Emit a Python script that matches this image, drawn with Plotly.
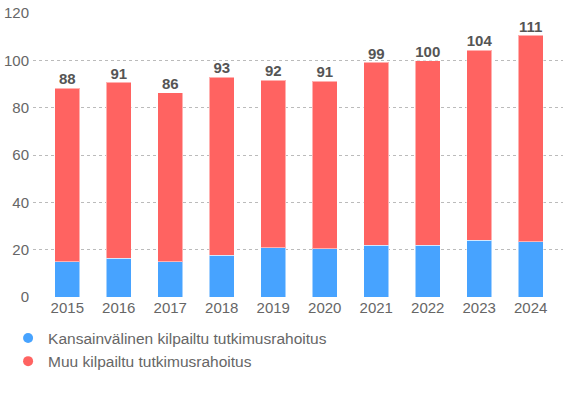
import plotly.graph_objects as go

years = ["2015", "2016", "2017", "2018", "2019", "2020", "2021", "2022", "2023", "2024"]
intl = [15.0, 16.4, 15.0, 17.6, 20.9, 20.3, 21.8, 21.8, 24.0, 23.4]
other = [73.3, 74.3, 71.2, 75.3, 70.7, 70.9, 77.3, 78.1, 80.3, 87.2]
totals_label = ["88", "91", "86", "93", "92", "91", "99", "100", "104", "111"]
names = ["Kansainvälinen kilpailtu tutkimusrahoitus", "Muu kilpailtu tutkimusrahoitus"]
colors = ["#47A3FF", "#FF6361"]

totals = [a + b for a, b in zip(intl, other)]
xi = list(range(len(years)))

fig = go.Figure()
for vals, name, col in zip([intl, other], names, colors):
    fig.add_trace(go.Bar(x=xi, y=vals, name=name, width=0.48,
                         marker=dict(color=col, line=dict(color="rgba(255,255,255,0.5)", width=1)),
                         showlegend=False, hoverinfo="y"))
fig.add_trace(go.Scatter(x=xi, y=totals, mode="text", text=totals_label,
                         textposition="top center",
                         textfont=dict(size=15, color="#555555", family="Liberation Sans, Arial", weight="bold"),
                         showlegend=False, hoverinfo="skip", cliponaxis=False))
for name, col in zip(names, colors):
    fig.add_trace(go.Scatter(x=[None], y=[None], mode="markers", name=name,
                             marker=dict(color=col, size=10, symbol="circle")))

fig.update_layout(
    width=567, height=396,
    margin=dict(l=30, r=4, t=11, b=99),
    barmode="stack",
    plot_bgcolor="white", paper_bgcolor="white",
    font=dict(family="Liberation Sans, Arial", size=14, color="#666666"),
    showlegend=True,
    legend=dict(x=-0.047, y=-0.086, xanchor="left", yanchor="top", orientation="v",
                traceorder="normal",
                font=dict(size=15.5, color="#666666"), tracegroupgap=0, itemwidth=30),
    xaxis=dict(tickmode="array", tickvals=xi, ticktext=years, range=[-0.666, 9.627],
               showgrid=False, zeroline=False, showline=False, ticks="",
               tickfont=dict(size=15, color="#666666")),
    yaxis=dict(range=[0, 120], dtick=20, showgrid=True, gridcolor="#bbbbbb", griddash="dot",
               gridwidth=1, zeroline=False, showline=False, ticks="",
               tickfont=dict(size=15, color="#666666"), ticklabelstandoff=3),
)
fig.write_html("out.html", config={"displayModeBar": False},
               post_script="document.body.style.margin='0';")
